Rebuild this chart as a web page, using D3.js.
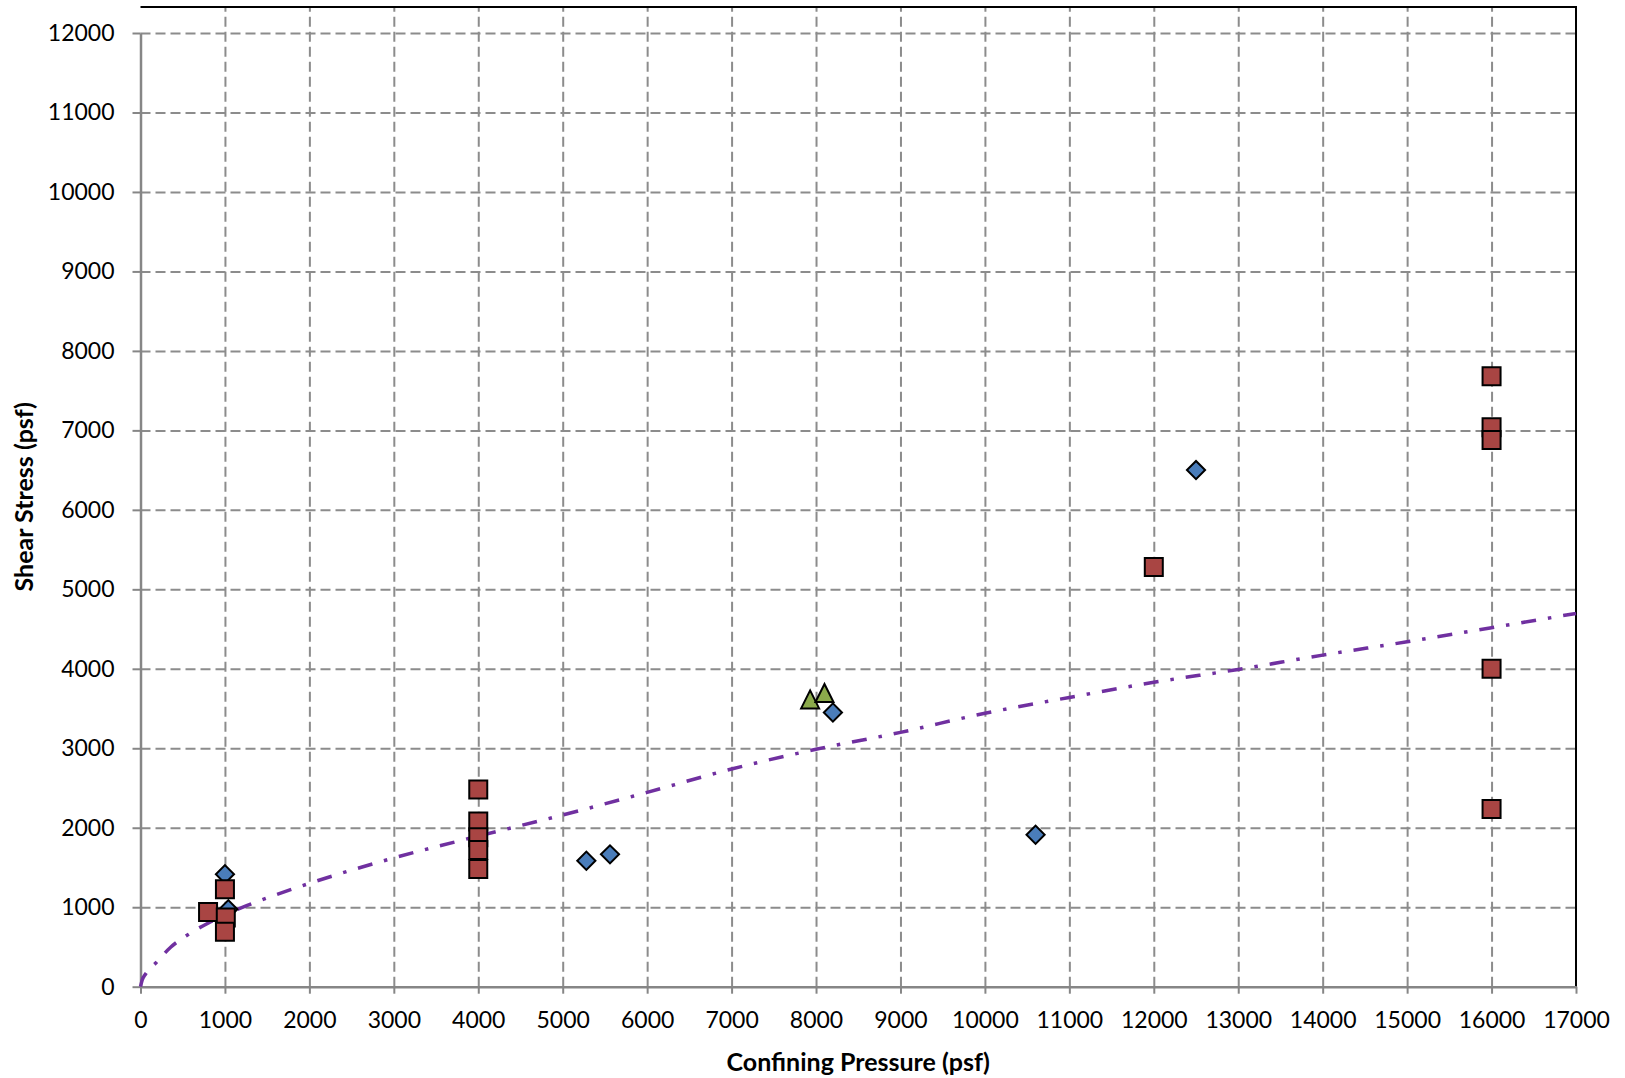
<!DOCTYPE html>
<html lang="en">
<head>
<meta charset="UTF-8">
<title>Shear Stress vs Confining Pressure</title>
<script src="https://d3js.org/d3.v7.min.js"></script>
<style>
  html, body { margin: 0; padding: 0; background: #fff; }
  svg { display: block; }
  .tick text { font-family: Lato, "Open Sans", sans-serif; font-size: 23px; fill: #000; }
  .title { font-family: Lato, "Open Sans", sans-serif; font-size: 25px; font-weight: bold; fill: #000; }
  .grid line { stroke: #8c8c8c; stroke-width: 2px; stroke-dasharray: 10,5; }
  .grid .domain { display: none; }
</style>
</head>
<body>
<svg width="1625" height="1078"></svg>

<script>
// data
const xTicks = d3.range(0, 17001, 1000);
const yTicks = d3.range(0, 12001, 1000);

const blueDiamonds = [[1000, 1415], [1040, 975], [5280, 1585], [5560, 1665], [8200, 3450], [10600, 1912], [12500, 6500]];
const redSquares = [[800, 940], [1000, 1225], [1010, 870], [1000, 690],
  [4000, 2480], [4000, 2080], [4000, 1880], [4000, 1720], [4000, 1480],
  [12000, 5280], [16000, 7680], [16000, 7040], [16000, 6880], [16000, 4000], [16000, 2235]];
const greenTriangles = [[7930, 3615], [8100, 3695]];

// trendline
const trendX = [0, 20, 60, 184, 357, 574, 800, 1257, 1494, 2000, 3000, 4000, 5000, 6000, 7000, 8000, 9000, 10000, 11000, 12000, 13000, 14000, 15000, 16000, 17000];
const trendY = [0, 85, 160, 302, 496, 663, 800, 1020, 1115, 1300, 1620, 1895, 2160, 2445, 2739, 2987, 3200, 3441, 3640, 3830, 3992, 4172, 4340, 4517, 4697];

const svg = d3.select("svg");
const mLeft = 140.5, mRight = 1576, mTop = 7, mBottom = 986.7;

const x = d3.scaleLinear().domain([0, 17000]).range([mLeft, mRight]);
const y = d3.scaleLinear().domain([0, 12000]).range([mBottom, 33]);

// gridlines
svg.append("g").attr("class", "grid")
  .attr("transform", `translate(0,${mBottom})`)
  .call(d3.axisBottom(x).tickValues(xTicks.slice(1, -1)).tickSize(-(mBottom - mTop)).tickFormat(""));
svg.append("g").attr("class", "grid")
  .attr("transform", `translate(${mLeft},0)`)
  .call(d3.axisLeft(y).tickValues(yTicks.slice(1)).tickSize(-(mRight - mLeft)).tickFormat(""));

// top / right border
svg.append("path")
  .attr("d", `M${mLeft},${mTop}H${mRight}V${mBottom}`)
  .attr("fill", "none").attr("stroke", "#000").attr("stroke-width", 2);

// axes
const fmt = d3.format("d");
const xAxis = svg.append("g")
  .attr("transform", `translate(0,${mBottom})`)
  .call(d3.axisBottom(x).tickValues(xTicks).tickFormat(fmt).tickSize(7).tickPadding(18).tickSizeOuter(0));
const yAxis = svg.append("g")
  .attr("transform", `translate(${mLeft},0)`)
  .call(d3.axisLeft(y).tickValues(yTicks).tickFormat(fmt).tickSize(8).tickPadding(18).tickSizeOuter(0));
[xAxis, yAxis].forEach(a => {
  a.select(".domain").attr("stroke", "#868686").attr("stroke-width", 2.5);
  a.selectAll(".tick line").attr("stroke", "#868686").attr("stroke-width", 2);
  a.attr("font-family", null).attr("font-size", null);
});

// trendline
const trend = trendX.map((d, i) => [d, trendY[i]]);
svg.append("path")
  .datum(trend)
  .attr("fill", "none")
  .attr("stroke", "#7030a0")
  .attr("stroke-width", 3.5)
  .attr("stroke-dasharray", "15,12,3.5,12")
  .attr("d", d3.line().x(d => x(d[0])).y(d => y(d[1])).curve(d3.curveMonotoneX));

// markers
const isoTriangle = {
  draw(ctx, size) {
    const h = Math.sqrt(size) / 2;
    ctx.moveTo(0, -h); ctx.lineTo(h, h); ctx.lineTo(-h, h); ctx.closePath();
  }
};

function markers(data, type, size, fill, rotate) {
  svg.append("g").selectAll("path")
    .data(data)
    .join("path")
    .attr("transform", d => `translate(${x(d[0])},${y(d[1])})` + (rotate ? " rotate(45)" : ""))
    .attr("d", d3.symbol().type(type).size(size))
    .attr("fill", fill)
    .attr("stroke", "#000")
    .attr("stroke-width", 2)
    .attr("stroke-linejoin", "miter");
}
markers(blueDiamonds, d3.symbolSquare, 165, "#4a7dba", true);
markers(redSquares, d3.symbolSquare, 324, "#a94543", false);
markers(greenTriangles, isoTriangle, 324, "#8baa4b", false);

// titles
svg.append("text").attr("class", "title")
  .attr("x", (mLeft + mRight) / 2).attr("y", 1071)
  .attr("text-anchor", "middle")
  .text("Confining Pressure (psf)");
svg.append("text").attr("class", "title")
  .attr("transform", `translate(33,${(mTop + mBottom) / 2}) rotate(-90)`)
  .attr("text-anchor", "middle")
  .text("Shear Stress (psf)");
</script>
</body>
</html>
